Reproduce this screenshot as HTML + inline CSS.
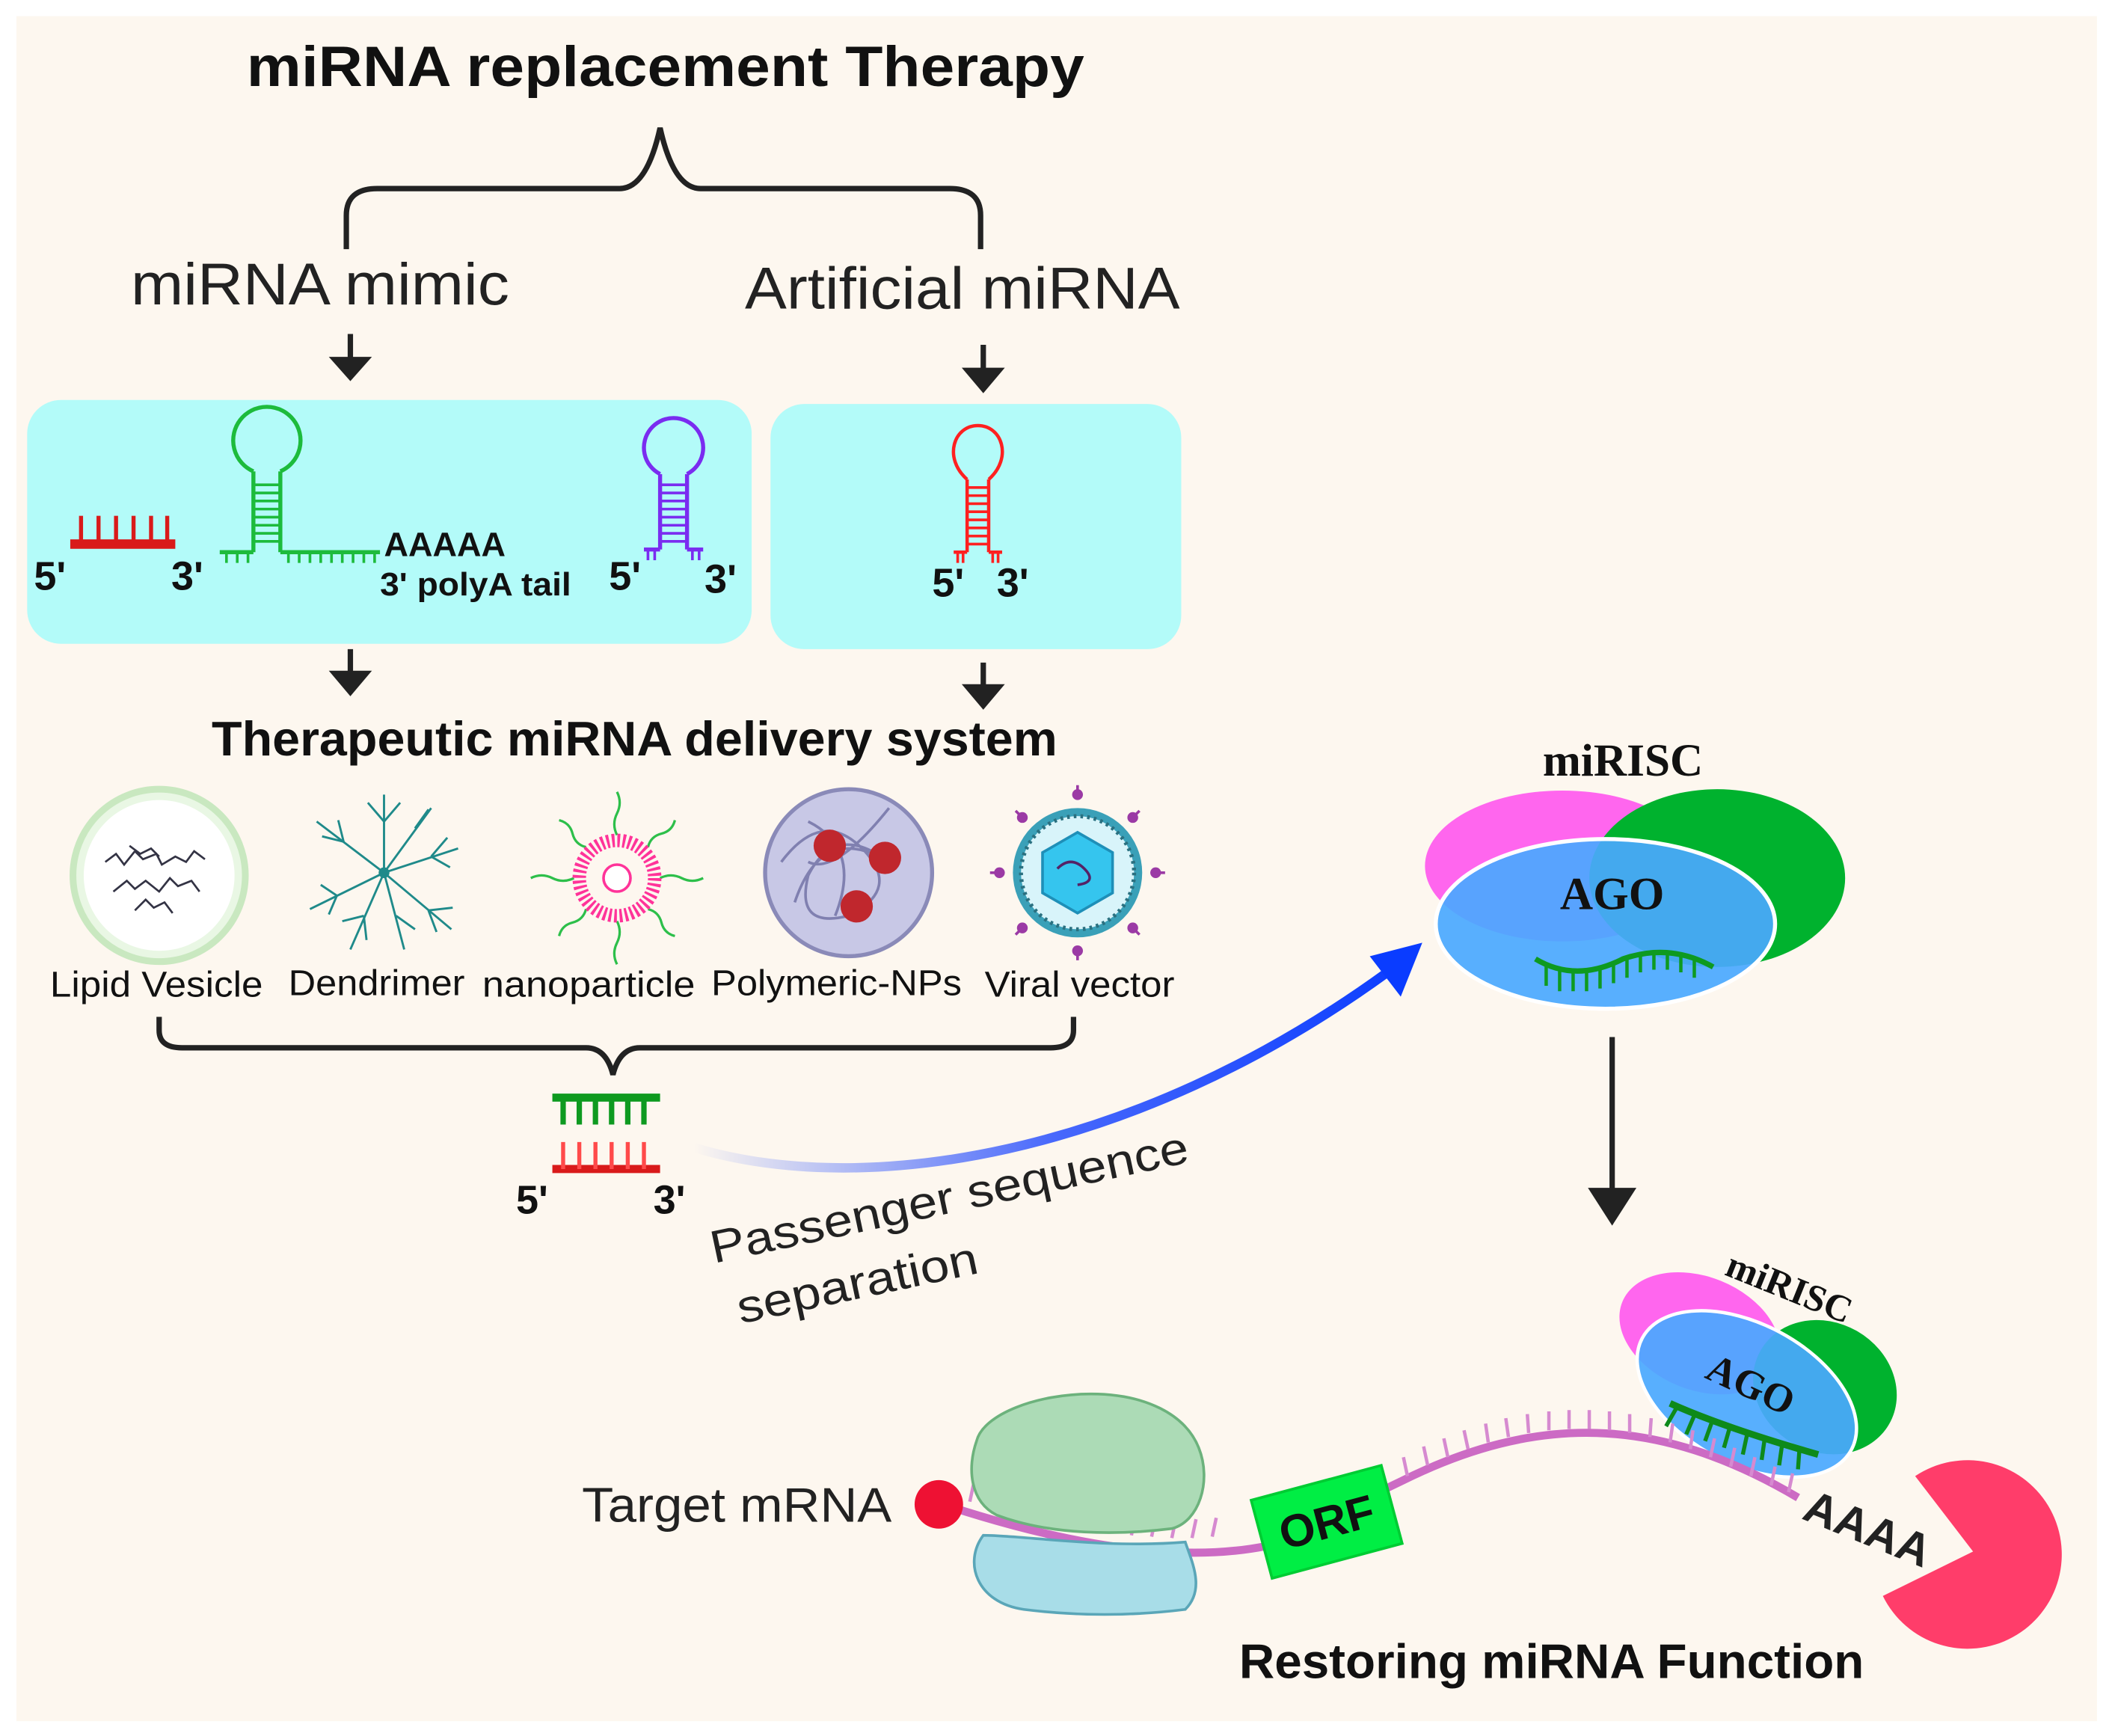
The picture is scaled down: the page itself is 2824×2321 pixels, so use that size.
<!DOCTYPE html>
<html><head><meta charset="utf-8"><style>
html,body{margin:0;padding:0;background:#fff}
svg{display:block}
text{font-family:"Liberation Sans",sans-serif}
.b{font-weight:bold}
.s{font-family:"Liberation Serif",serif;font-weight:bold}
</style></head><body>
<svg width="2824" height="2321" viewBox="0 0 1568 1289" xmlns="http://www.w3.org/2000/svg">
<defs>
<linearGradient id="ga" x1="515" y1="0" x2="1050" y2="0" gradientUnits="userSpaceOnUse">
<stop offset="0" stop-color="#1a44ff" stop-opacity="0"/><stop offset="0.5" stop-color="#1a44ff" stop-opacity="0.8"/><stop offset="1" stop-color="#0a3cff"/></linearGradient>
</defs>
<rect x="0" y="0" width="1568" height="1289" fill="#fff"/>
<rect x="12" y="12" width="1545" height="1266" fill="#fdf7ef"/>

<text x="183" y="64" font-size="42" class="b" textLength="622" lengthAdjust="spacingAndGlyphs" fill="#111">miRNA replacement Therapy</text>
<path d="M257,185 V160 Q257,140 280,140 H460 Q480,140 490,95 Q500,140 520,140 H705 Q728,140 728,160 V185" fill="none" stroke="#222" stroke-width="4"/>
<text x="97" y="226" font-size="44" textLength="281" lengthAdjust="spacingAndGlyphs" fill="#222">miRNA mimic</text>
<text x="553" y="229" font-size="44" textLength="323" lengthAdjust="spacingAndGlyphs" fill="#222">Artificial miRNA</text>

<g fill="#222" stroke="#222" stroke-width="4">
<line x1="260" y1="248" x2="260" y2="268"/><path d="M244,265 L276,265 L260,283z" stroke="none"/>
<line x1="730" y1="256" x2="730" y2="276"/><path d="M714,273 L746,273 L730,292z" stroke="none"/>
<line x1="260" y1="482" x2="260" y2="500"/><path d="M244,498 L276,498 L260,517z" stroke="none"/>
<line x1="730" y1="492" x2="730" y2="510"/><path d="M714,508 L746,508 L730,527z" stroke="none"/>
<line x1="1197" y1="770" x2="1197" y2="885"/><path d="M1179,882 L1215,882 L1197,910z" stroke="none"/>
</g>

<rect x="20" y="297" width="538" height="181" rx="25" fill="#b3fbf9"/>
<rect x="572" y="300" width="305" height="182" rx="25" fill="#b3fbf9"/>

<g stroke="#d91a1a">
<line x1="52" y1="404" x2="130" y2="404" stroke-width="7"/>
<g stroke-width="3"><line x1="60" y1="404" x2="60" y2="383"/><line x1="73" y1="404" x2="73" y2="383"/><line x1="86" y1="404" x2="86" y2="383"/><line x1="99" y1="404" x2="99" y2="383"/><line x1="112" y1="404" x2="112" y2="383"/><line x1="124" y1="404" x2="124" y2="383"/></g>
</g>
<text x="25" y="438" font-size="30" class="b" fill="#111">5'</text>
<text x="127" y="438" font-size="30" class="b" fill="#111">3'</text>

<g stroke="#1dbb3c" fill="none" stroke-width="3">
<path d="M188,350 A25,25 0 1 1 208,350"/>
<line x1="188" y1="350" x2="188" y2="410"/><line x1="208" y1="350" x2="208" y2="410"/>
<path d="M188,360h20M188,366h20M188,372h20M188,378h20M188,384h20M188,390h20M188,396h20M188,402h20" stroke-width="2"/>
<line x1="163" y1="410" x2="188" y2="410"/><line x1="208" y1="410" x2="282" y2="410"/>
<path d="M168,410v8M176,410v8M184,410v8M214,410v8M222,410v8M230,410v8M238,410v8M246,410v8M254,410v8M262,410v8M270,410v8M278,410v8" stroke-width="2"/>
</g>
<text x="285" y="413" font-size="25" class="b" fill="#111">AAAAA</text>
<text x="282" y="442" font-size="24" class="b" textLength="142" lengthAdjust="spacingAndGlyphs" fill="#111">3' polyA tail</text>

<g stroke="#7a2cf0" fill="none" stroke-width="3">
<path d="M490,352 A22,22 0 1 1 510,352"/>
<line x1="490" y1="352" x2="490" y2="408"/><line x1="510" y1="352" x2="510" y2="408"/>
<path d="M490,360h20M490,366h20M490,372h20M490,378h20M490,384h20M490,390h20M490,396h20M490,402h20" stroke-width="2"/>
<line x1="478" y1="408" x2="490" y2="408"/><line x1="510" y1="408" x2="522" y2="408"/>
<path d="M481,408v8M486,408v8M514,408v8M519,408v8" stroke-width="2"/>
</g>
<text x="452" y="438" font-size="30" class="b" fill="#111">5'</text>
<text x="523" y="440" font-size="30" class="b" fill="#111">3'</text>

<g stroke="#ff2020" fill="none" stroke-width="2.5">
<path d="M718,356 C700,340 708,316 726,316 C744,316 752,340 734,356"/>
<line x1="718" y1="356" x2="718" y2="410"/><line x1="734" y1="356" x2="734" y2="410"/>
<path d="M718,362h16M718,368h16M718,374h16M718,380h16M718,386h16M718,392h16M718,398h16M718,404h16" stroke-width="2"/>
<line x1="708" y1="410" x2="718" y2="410"/><line x1="734" y1="410" x2="744" y2="410"/>
<path d="M711,410v8M715,410v8M737,410v8M741,410v8" stroke-width="2"/>
</g>
<text x="692" y="443" font-size="30" class="b" fill="#111">5'</text>
<text x="740" y="443" font-size="30" class="b" fill="#111">3'</text>

<text x="157" y="561" font-size="36" class="b" textLength="628" lengthAdjust="spacingAndGlyphs" fill="#111">Therapeutic miRNA delivery system</text>

<circle cx="118" cy="650" r="64" fill="#e9f7e4" stroke="#c9e8c0" stroke-width="5"/>
<circle cx="118" cy="650" r="56" fill="#fff"/>
<path d="M78,640 l8,-6 l6,8 l8,-10 l6,6 l10,-4 l4,8 l10,-6 l8,4 l6,-8 l8,6 M84,662 l10,-8 l6,6 l8,-6 l10,8 l8,-10 l6,6 l10,-4 l6,8 M100,676 l8,-8 l6,6 l8,-4 l6,8 M96,628 l8,6 l8,-4 l6,6" fill="none" stroke="#334" stroke-width="1.5"/>
<g stroke="#1f8a8a" stroke-width="1.6" fill="none">
<path d="M285,648 L285,590 M285,648 L340,630 M285,648 L335,690 M285,648 L260,705 M285,648 L230,675 M285,648 L235,610 M285,648 L300,705 M285,648 L320,600"/>
<path d="M285,610 l-12,-14 M285,610 l12,-14 M320,636 l12,-14 M320,636 l14,8 M318,676 l18,-2 M318,676 l6,16 M270,680 l-16,4 M270,680 l2,18 M250,665 l-12,-8 M250,665 l-6,14 M255,625 l-16,-4 M255,625 l-4,-16 M294,680 l14,10 M308,615 l10,-14"/>
</g>
<circle cx="285" cy="648" r="4" fill="#1f8a8a"/>
<g stroke="#2dbf4a" stroke-width="1.8" fill="none">
<path d="M458,620 q-4,-8 0,-16 q4,-8 0,-16 M458,684 q4,8 0,16 q-4,8 0,16 M426,652 q-8,4 -16,0 q-8,-4 -16,0 M490,652 q8,-4 16,0 q8,4 16,0 M435,629 q-8,-2 -10,-10 q-2,-8 -10,-10 M481,675 q8,2 10,10 q2,8 10,10 M481,629 q2,-8 10,-10 q8,-2 10,-10 M435,675 q-2,8 -10,10 q-8,2 -10,10"/>
</g>
<circle cx="458" cy="652" r="28" fill="none" stroke="#ff3399" stroke-width="10" stroke-dasharray="2 2"/>
<circle cx="458" cy="652" r="10" fill="#fff" stroke="#ff3399" stroke-width="2"/>
<circle cx="630" cy="648" r="62" fill="#c8c8e6" stroke="#8a8ab8" stroke-width="3"/>
<path d="M580,640 q30,-40 60,-10 q30,30 -10,50 q-40,10 -30,-30 q20,-40 60,-10 M590,670 q20,-60 70,-30 M600,610 q40,20 20,70 M660,600 q-40,50 -60,40" fill="none" stroke="#8080b0" stroke-width="2"/>
<circle cx="616" cy="628" r="12" fill="#c0272d"/><circle cx="657" cy="637" r="12" fill="#c0272d"/><circle cx="636" cy="673" r="12" fill="#c0272d"/>
<g stroke="#9b3aa5" stroke-width="2">
<path d="M800,648 m0,-55 v-10 M800,648 m0,55 v10 M800,648 m-55,0 h-10 M800,648 m55,0 h10 M800,648 m39,-39 l7,-7 M800,648 m-39,39 l-7,7 M800,648 m-39,-39 l-7,-7 M800,648 m39,39 l7,7"/>
</g>
<g fill="#9b3aa5"><circle cx="800" cy="590" r="4"/><circle cx="800" cy="706" r="4"/><circle cx="742" cy="648" r="4"/><circle cx="858" cy="648" r="4"/><circle cx="841" cy="607" r="4"/><circle cx="759" cy="689" r="4"/><circle cx="759" cy="607" r="4"/><circle cx="841" cy="689" r="4"/></g>
<circle cx="800" cy="648" r="48" fill="#3aa0b8"/>
<circle cx="800" cy="648" r="42" fill="#d8f4fa" stroke="#2a7080" stroke-width="3" stroke-dasharray="2 3"/>
<path d="M800,618 L826,633 L826,663 L800,678 L774,663 L774,633z" fill="#35c5ee" stroke="#1e8fb8" stroke-width="2"/>
<path d="M785,645 q10,-10 20,0 q10,10 -5,12" fill="none" stroke="#552266" stroke-width="2"/>

<g font-size="27" fill="#111">
<text x="37" y="740" textLength="158" lengthAdjust="spacingAndGlyphs">Lipid Vesicle</text>
<text x="214" y="739" textLength="131" lengthAdjust="spacingAndGlyphs">Dendrimer</text>
<text x="358" y="740" textLength="158" lengthAdjust="spacingAndGlyphs">nanoparticle</text>
<text x="528" y="739" textLength="186" lengthAdjust="spacingAndGlyphs">Polymeric-NPs</text>
<text x="731" y="740" textLength="141" lengthAdjust="spacingAndGlyphs">Viral vector</text>
</g>
<path d="M118,755 V765 Q118,778 135,778 H435 Q450,778 455,798 Q460,778 475,778 H780 Q797,778 797,765 V755" fill="none" stroke="#222" stroke-width="4"/>

<line x1="410" y1="815" x2="490" y2="815" stroke="#0e9a20" stroke-width="6"/>
<path d="M418,815v20M430,815v20M442,815v20M454,815v20M466,815v20M478,815v20" stroke="#0e9a20" stroke-width="4"/>
<line x1="410" y1="868" x2="490" y2="868" stroke="#d91a1a" stroke-width="6"/>
<path d="M418,868v-20M430,868v-20M442,868v-20M454,868v-20M466,868v-20M478,868v-20" stroke="#ff4a4a" stroke-width="3"/>
<text x="383" y="901" font-size="30" class="b" fill="#111">5'</text>
<text x="485" y="901" font-size="30" class="b" fill="#111">3'</text>

<path d="M515,852 C640,890 840,860 1030,722" fill="none" stroke="url(#ga)" stroke-width="7"/>
<path d="M1056,700 L1040,740 L1017,710z" fill="#0a3cff"/>
<g transform="rotate(-12 530 938)"><text x="530" y="938" font-size="34" textLength="362" lengthAdjust="spacingAndGlyphs" fill="#222">Passenger sequence</text>
<text x="540" y="986" font-size="34" textLength="182" lengthAdjust="spacingAndGlyphs" fill="#222">separation</text></g>

<text x="1205" y="576" font-size="34" class="s" text-anchor="middle" fill="#111">miRISC</text>
<ellipse cx="1160" cy="643" rx="102" ry="56" fill="#ff66ee"/>
<ellipse cx="1275" cy="652" rx="95" ry="66" fill="#00b22e"/>
<ellipse cx="1192" cy="686" rx="126" ry="63" fill="#4aa8ff" fill-opacity="0.92" stroke="#fff" stroke-width="3"/>
<text x="1197" y="675" font-size="34" class="s" text-anchor="middle" fill="#111">AGO</text>
<path d="M1140,712 Q1170,730 1205,712 Q1240,700 1272,718" fill="none" stroke="#0e9a20" stroke-width="4"/>
<path d="M1148,716v16M1158,720v16M1168,722v14M1178,722v14M1188,720v14M1198,716v14M1208,712v14M1218,708v14M1228,706v14M1238,706v14M1248,708v14M1258,712v14" stroke="#0e9a20" stroke-width="2.5"/>

<ellipse cx="1262" cy="990" rx="62" ry="42" fill="#ff66ee" transform="rotate(22 1262 990)"/>
<ellipse cx="1355" cy="1030" rx="55" ry="48" fill="#00b22e" transform="rotate(30 1355 1030)"/>
<ellipse cx="1297" cy="1035" rx="88" ry="52" fill="#4aa8ff" fill-opacity="0.92" stroke="#fff" stroke-width="2.5" transform="rotate(28 1297 1035)"/>
<text x="1300" y="1038" font-size="30" class="s" text-anchor="middle" fill="#111" transform="rotate(25 1300 1028)">AGO</text>
<text x="1327" y="965" font-size="28" class="s" text-anchor="middle" fill="#111" transform="rotate(22 1327 960)">miRISC</text>

<path d="M700,1117 C800,1150 880,1160 940,1148 L1040,1100 C1140,1050 1230,1050 1335,1112" fill="none" stroke="#cc6bc4" stroke-width="6"/>
<path d="M720,1115l3,-14M735,1120l3,-14M750,1124l3,-14M765,1128l3,-14M780,1131l3,-14M795,1134l3,-14M810,1136l3,-14M825,1138l3,-14M840,1140l3,-14M855,1141l3,-14M870,1142l3,-14M885,1142l3,-14M900,1141l3,-14M1045,1096l-3,-14M1060,1088l-3,-14M1075,1082l-3,-14M1090,1076l-3,-14M1105,1071l-2,-14M1120,1067l-2,-14M1135,1064l-1,-14M1150,1062v-14M1165,1061v-14M1180,1061v-14M1195,1062v-14M1210,1064v-14M1225,1067l1,-14M1240,1071l2,-14M1255,1076l2,-14M1270,1082l3,-14M1285,1089l3,-14M1300,1096l3,-14M1315,1103l3,-14M1328,1108l3,-14" stroke="#d68ad0" stroke-width="2.5"/>
<path d="M1240,1042 Q1280,1060 1350,1080" fill="none" stroke="#0e8a1a" stroke-width="5"/>
<path d="M1245,1045l-8,14M1258,1051l-6,14M1271,1056l-5,14M1284,1061l-4,14M1297,1066l-3,14M1310,1070l-2,14M1323,1074l-2,14M1336,1077l-1,14" stroke="#0e8a1a" stroke-width="3"/>
<path d="M730,1140 C715,1160 725,1190 760,1195 C800,1200 840,1200 880,1195 C895,1180 885,1160 880,1145 C820,1150 760,1140 730,1140z" fill="#a8dde8" stroke="#5aa6b8" stroke-width="2"/>
<path d="M725,1070 C730,1050 770,1035 810,1035 C850,1035 880,1050 890,1075 C900,1100 890,1130 870,1135 C830,1140 780,1140 740,1125 C720,1115 718,1090 725,1070z" fill="#acdbb6" stroke="#6cb27c" stroke-width="2"/>
<circle cx="697" cy="1117" r="18" fill="#ee1133"/>
<text x="432" y="1130" font-size="36" textLength="230" lengthAdjust="spacingAndGlyphs" fill="#222">Target mRNA</text>
<g transform="rotate(-15 985 1130)"><rect x="935" y="1100" width="100" height="60" fill="#00ee44" stroke="#00cc33" stroke-width="2"/>
<text x="985" y="1142" font-size="34" class="b" text-anchor="middle" fill="#111">ORF</text></g>
<text x="1340" y="1128" font-size="34" class="b" fill="#222" transform="rotate(22 1340 1120)">AAAA</text>
<path d="M1465,1152 L1398,1185 A70,70 0 1 0 1422,1096 Z" fill="#ff3d6a"/>

<text x="920" y="1246" font-size="36" class="b" textLength="464" lengthAdjust="spacingAndGlyphs" fill="#111">Restoring miRNA Function</text>
</svg>
</body></html>
